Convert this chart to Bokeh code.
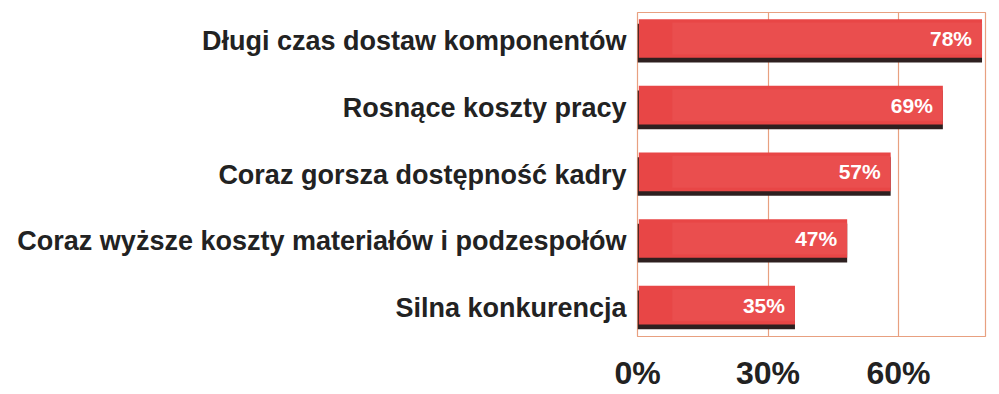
from bokeh.plotting import figure
from bokeh.models import ColumnDataSource, FixedTicker, CustomJSTickFormatter, FactorRange
from bokeh.transform import dodge
from bokeh.core.properties import value
from bokeh.embed import file_html
from bokeh.resources import INLINE

categories = ["Silna konkurencja",
              "Coraz wyższe koszty materiałów i podzespołów",
              "Coraz gorsza dostępność kadry",
              "Rosnące koszty pracy",
              "Długi czas dostaw komponentów"]
values = [35, 47, 57, 69, 78]
labels = [f"{v}%" for v in values]
x_ticks = [0, 30, 60]

src = ColumnDataSource(dict(cat=categories, val=values, lab=labels,
                            vr=[v + 1.2 for v in values],
                            lx=[v - 1.1 for v in values]))

yr = FactorRange(factors=categories, range_padding=-0.07, range_padding_units="absolute")
p = figure(width=991, height=393, y_range=yr, x_range=(0, 80),
           output_backend="svg", toolbar_location=None,
           min_border_left=637, min_border_right=6, min_border_top=12, min_border_bottom=10)
p.outline_line_color = "#E8A080"
p.outline_line_width = 1.2
p.background_fill_color = "white"
p.border_fill_color = "white"

face = dodge("cat", 0.04, range=p.y_range)
# shadow (3D edge)
p.hbar(y=dodge("cat", -0.03, range=p.y_range), left=-0.3, right="vr", height=0.58,
       source=src, fill_color="#2e2020", line_color=None)
p.hbar(y=face, left=0.3, right="vr", height=0.58,
       source=src, fill_color="#E84646", line_color=None)
p.hbar(y=face, left=8, right="vr", height=0.48,
       source=src, fill_color="#EC5656", line_color=None, fill_alpha=0.5)

p.text(x="lx", y=face, text="lab", source=src,
       text_align="right", text_baseline="middle", text_color="white",
       text_font=value("Liberation Sans"), text_font_style="bold", text_font_size="21px")

p.xgrid.ticker = FixedTicker(ticks=x_ticks)
p.xgrid.grid_line_color = "#E8A080"
p.xgrid.grid_line_width = 1.2
p.ygrid.grid_line_color = None

p.xaxis.ticker = FixedTicker(ticks=x_ticks)
p.xaxis.formatter = CustomJSTickFormatter(code="return tick + '%';")
p.xaxis.major_label_text_font = "Liberation Sans"
p.xaxis.major_label_text_font_style = "bold"
p.xaxis.major_label_text_font_size = "32px"
p.xaxis.major_label_text_color = "#222222"
p.xaxis.axis_line_color = None
p.xaxis.major_tick_line_color = None
p.xaxis.minor_tick_line_color = None
p.xaxis.major_label_standoff = 12

p.yaxis.major_label_text_font = "Liberation Sans"
p.yaxis.major_label_text_font_style = "bold"
p.yaxis.major_label_text_font_size = "27px"
p.yaxis.major_label_text_color = "#222222"
p.yaxis.axis_line_color = None
p.yaxis.major_tick_line_color = None
p.yaxis.minor_tick_line_color = None
p.yaxis.major_label_standoff = 5

open("out.html", "w").write(file_html(p, INLINE))
